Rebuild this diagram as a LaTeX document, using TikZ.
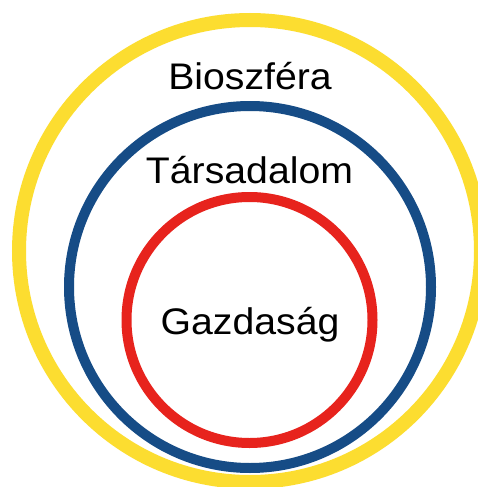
\documentclass[tikz,border=0pt]{standalone}
\usepackage{fontspec}
\setmainfont{Liberation Sans}
\definecolor{ringyellow}{HTML}{FCDD30}
\definecolor{ringblue}{HTML}{164C86}
\definecolor{ringred}{HTML}{E7231D}
\tikzset{
  ring/.style={line width=#1},
  lbl/.style={anchor=base, inner sep=0pt, font=\fontsize{37}{40}\selectfont, text=black, xscale=1.06}
}
\begin{document}
\begin{tikzpicture}[x=1pt,y=-1pt]
\useasboundingbox (0,0) rectangle (478,487);
\fill[white] (0,0) rectangle (478,487);
\draw[ringyellow, ring=14pt] (250,251) circle[radius=231];
\draw[ringblue, ring=10pt] (250,287) circle[radius=181];
\draw[ringred, ring=10pt] (249.5,320) circle[radius=123];
\node[lbl] (bio) at (250,89) {Bioszféra};
\node[lbl] (tars) at (249.5,183) {Társadalom};
\node[lbl] (gazd) at (250,334) {Gazdaság};
\end{tikzpicture}
\end{document}
